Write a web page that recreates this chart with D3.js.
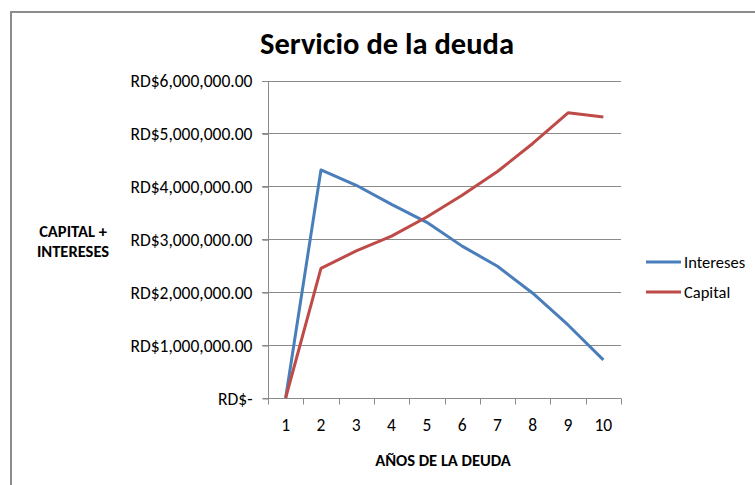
<!DOCTYPE html>
<html lang="es">
<head>
<meta charset="utf-8">
<title>Servicio de la deuda</title>
<script src="https://d3js.org/d3.v7.min.js"></script>
<style>
  body { margin: 0; background: #fff; }
  text { font-family: Carlito, Lato, "Open Sans", sans-serif; fill: #000; }
</style>
</head>
<body>
<script>
// data
var years = ["1", "2", "3", "4", "5", "6", "7", "8", "9", "10"];
var intereses = [0, 4310000, 4020000, 3660000, 3320000, 2870000, 2490000, 1980000, 1380000, 720000];
var capital = [0, 2450000, 2780000, 3060000, 3420000, 3830000, 4280000, 4810000, 5390000, 5310000];
var yTicks = [0, 1000000, 2000000, 3000000, 4000000, 5000000, 6000000];

var series = [
  {name: "Intereses", values: intereses, color: "#4a7ebb"},
  {name: "Capital", values: capital, color: "#be4b48"}
];

var width = 755, height = 485;
var svg = d3.select("body").append("svg")
    .attr("width", width)
    .attr("height", height);

// outer chart frame
svg.append("rect")
    .attr("x", 11).attr("y", 12)
    .attr("width", 760).attr("height", 500)
    .attr("fill", "#fff")
    .attr("stroke", "#8c8c8c")
    .attr("stroke-width", 2);

var plotLeft = 268, plotRight = 621, plotTop = 80.5, plotBottom = 398;

var x = d3.scaleBand().domain(years).range([plotLeft, plotRight]);
var y = d3.scaleLinear().domain([0, 6000000]).range([plotBottom, plotTop]);

// gridlines
svg.append("g")
  .selectAll("line")
  .data(yTicks.slice(1))
  .join("line")
    .attr("x1", plotLeft - 6).attr("x2", plotRight)
    .attr("y1", d => Math.round(y(d)) + 0.5).attr("y2", d => Math.round(y(d)) + 0.5)
    .attr("stroke", "#8a8a8a");

var fmt = d3.format(",.2f");
var yAxis = svg.append("g")
    .attr("transform", "translate(" + (plotLeft + 0.5) + ",0.5)")
    .call(d3.axisLeft(y).tickValues(yTicks).tickSize(6).tickPadding(10)
      .tickFormat(d => d === 0 ? "RD$-" : "RD$" + fmt(d)));
yAxis.selectAll("line, path").attr("stroke", "#8a8a8a");
yAxis.select(".domain").attr("d", "M-6," + Math.round(plotTop) + "H0V" + Math.round(plotBottom) + "H-6");
yAxis.selectAll("text").style("font-size", "17.5px").attr("fill", "#000");

var xAxis = svg.append("g")
    .attr("transform", "translate(0," + (Math.round(plotBottom) + 0.5) + ")");
xAxis.append("line")
    .attr("x1", plotLeft).attr("x2", plotRight)
    .attr("stroke", "#8a8a8a");
xAxis.selectAll(".tk")
  .data(years.concat(["end"]))
  .join("line")
    .attr("x1", (d, i) => Math.round(plotLeft + i * x.bandwidth()) + 0.5)
    .attr("x2", (d, i) => Math.round(plotLeft + i * x.bandwidth()) + 0.5)
    .attr("y1", 0).attr("y2", 6)
    .attr("stroke", "#8a8a8a");
xAxis.selectAll("text")
  .data(years)
  .join("text")
    .attr("x", d => x(d) + x.bandwidth() / 2)
    .attr("y", 32)
    .attr("text-anchor", "middle")
    .style("font-size", "17.5px")
    .text(d => d);

// lines
var line = d3.line()
    .x((d, i) => x(years[i]) + x.bandwidth() / 2)
    .y(d => y(d));

svg.append("g")
  .selectAll("path")
  .data(series)
  .join("path")
    .attr("d", d => line(d.values))
    .attr("fill", "none")
    .attr("stroke", d => d.color)
    .attr("stroke-width", 3)
    .attr("stroke-linejoin", "round");

// legend
var legend = svg.append("g")
  .selectAll("g")
  .data(series)
  .join("g")
    .attr("transform", (d, i) => "translate(646," + (262 + i * 30) + ")");
legend.append("line")
    .attr("x1", 0).attr("x2", 35)
    .attr("stroke", d => d.color)
    .attr("stroke-width", 3);
legend.append("text")
    .attr("x", 38).attr("y", 6)
    .style("font-size", "16.5px")
    .text(d => d.name);

// titles
svg.append("text")
    .attr("x", 387).attr("y", 54)
    .attr("text-anchor", "middle")
    .style("font-size", "30.5px")
    .style("font-weight", "bold")
    .text("Servicio de la deuda");

svg.append("text")
    .attr("text-anchor", "middle")
    .style("font-size", "16.5px")
    .style("font-weight", "bold")
    .selectAll("tspan")
    .data(["CAPITAL +", "INTERESES"])
    .join("tspan")
      .attr("x", 73)
      .attr("y", (d, i) => 237 + i * 20)
      .text(d => d);

svg.append("text")
    .attr("x", 443).attr("y", 466)
    .attr("text-anchor", "middle")
    .style("font-size", "16.5px")
    .style("font-weight", "bold")
    .text("AÑOS DE LA DEUDA");
</script>
</body>
</html>
